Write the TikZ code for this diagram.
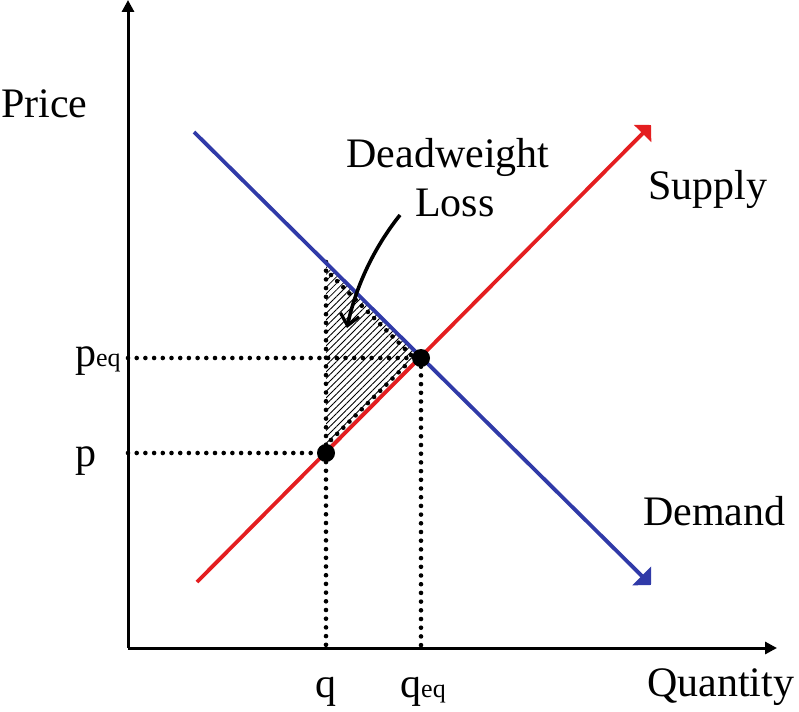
\documentclass[tikz,border=0pt]{standalone}
\usepackage{fontspec}
\setmainfont{Liberation Serif}
\usetikzlibrary{arrows.meta,patterns.meta,calc}
\definecolor{supred}{RGB}{228,30,32}
\definecolor{demblue}{RGB}{48,58,168}
\begin{document}
\begin{tikzpicture}[x=1pt,y=-1pt,
  lbl/.style={inner sep=0pt,font=\fontsize{42}{48}\selectfont},
  axisline/.style={line width=3pt,-{Triangle[length=12pt,width=12pt]}},
  curve/.style={line width=3.8pt},
  dotline/.style={line width=4.6pt,line cap=round,dash pattern=on 0pt off 8.7pt},
  bigdot/.style={circle,fill=black,inner sep=0pt,minimum size=18pt}]
\useasboundingbox (0,0) rectangle (799,711);
% coordinates
\coordinate (O) at (128,648);
\coordinate (ytop) at (128,0);
\coordinate (xend) at (777,648);
\coordinate (d0) at (194,132);
\coordinate (d1) at (651,585);
\coordinate (s0) at (197,582);
\coordinate (s1) at (651,125);
\coordinate (E) at (421,358);
\coordinate (P) at (326,453);
\coordinate (T) at (326,262);
\coordinate (pe) at (128,358);
\coordinate (pp) at (128,453);
\coordinate (qb) at (326,648);
\coordinate (qeb) at (421,648);
\coordinate (t1) at (331,275);
\coordinate (e1) at (411,355);
\coordinate (p1) at (331,440);
\coordinate (e2) at (409,362);
% hatched triangle
\fill[pattern={Lines[angle=45,distance=4.6pt,line width=0.8pt]}] (T) -- (E) -- (P) -- cycle;
% dotted lines
\draw[dotline] (pe) -- (E);
\draw[dotline] (pp) -- (P);
\draw[dotline] (T) -- (qb);
\draw[dotline] (E) -- (qeb);
\draw[dotline] (t1) -- (e1);
\draw[dotline] (p1) -- (e2);
% axes
\draw[axisline] (O) -- (ytop);
\draw[axisline] (O) -- (xend);
% curves
\draw[curve,demblue,-{Triangle[length=13pt,width=26pt]}] (d0) -- (d1);
\draw[curve,supred,-{Triangle[length=12pt,width=24pt]}] (s0) -- (s1);
% points
\node[bigdot] (Edot) at (E) {};
\node[bigdot] (Pdot) at (P) {};
% labels
\node[lbl,anchor=base west] (price) at (1,118) {Price};
\node[lbl,anchor=base] (dw) at (448,168) {Deadweight};
\node[lbl,anchor=base] (loss) at (455,216) {Loss};
\node[lbl,anchor=base west] (sup) at (648,200) {Supply};
\node[lbl,anchor=base west] (dem) at (643,525) {Demand};
\node[lbl,anchor=base west] (qty) at (647,696) {Quantity};
\node[lbl,anchor=base] (q) at (326,697) {q};
\node[lbl,anchor=base west] (qeq) at (400,697) {q{\fontsize{26}{26}\selectfont eq}};
\node[lbl,anchor=base west] (peq) at (75,366) {p{\fontsize{26}{26}\selectfont eq}};
\node[lbl,anchor=base west] (p) at (75,466) {p};
% DWL arrow
\coordinate (a0) at (400,215);
\coordinate (a1) at (347,328);
\draw[line width=3.6pt,-{Straight Barb[length=11pt,width=19pt,line width=3.2pt]}] (a0) .. controls (372,250) and (355,290) .. (a1);
\end{tikzpicture}
\end{document}
